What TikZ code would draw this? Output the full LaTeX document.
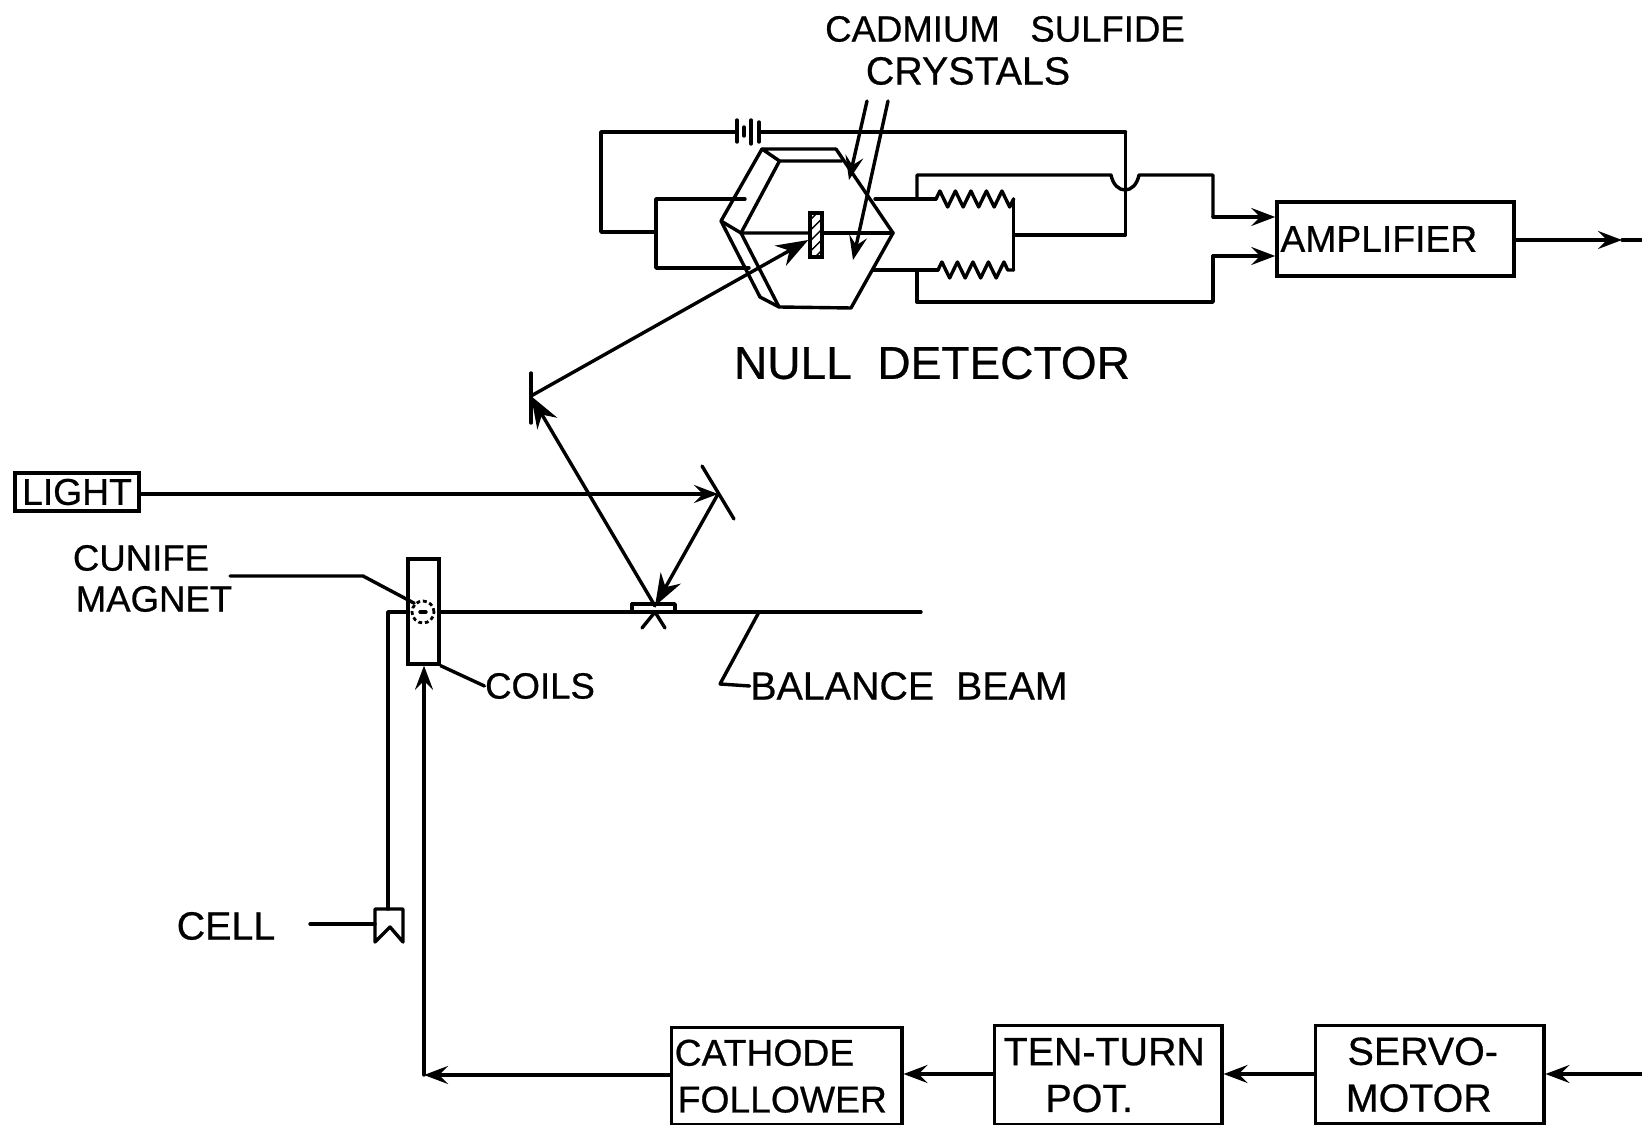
\documentclass[tikz,border=0pt]{standalone}
\usepackage{fontspec}
\setmainfont[FakeBold=0.6]{Liberation Sans}
\usetikzlibrary{arrows.meta,decorations.pathmorphing,patterns}
\tikzset{
  wire/.style={line width=0.34mm,line join=round,line cap=round},
  arr/.style={wire,-{Stealth[length=2.4mm,width=1.8mm,inset=0.9mm]}},
  fillarr/.style={wire,-{Stealth[length=3.2mm,width=2.3mm]}},
  blockbox/.style={draw,line width=0.34mm,inner sep=0pt,font=\fontsize{10.6}{13.3}\selectfont},
  lbl/.style={inner sep=0pt,font=\fontsize{10.4}{13.3}\selectfont},
  biglbl/.style={inner sep=0pt,font=\fontsize{11.2}{13.3}\selectfont},
  coil/.style={wire,decorate,decoration={zigzag,segment length=0.155cm,amplitude=0.08cm}}
}
\newcommand{\shiftline}[2]{#1\hspace*{#2}\mbox{}}
\begin{document}
\begin{tikzpicture}[x=0.01cm,y=-0.01cm]
    \useasboundingbox (0,0) rectangle (1642,1125);
    % labels
    \node [lbl] (cadmium) at (1005,29) {CADMIUM\ \ \ SULFIDE};
    \node [biglbl] (crystals) at (968,71) {CRYSTALS};
    \node [lbl,font=\fontsize{13.1}{16}\selectfont] (nulldet) at (932,363) {NULL\ \ DETECTOR};
    \node [lbl] (cunife) at (141,558) {CUNIFE};
    \node [lbl] (magnet) at (154,599) {MAGNET};
    \node [lbl] (coilstext) at (540,686) {COILS};
    \node [biglbl] (beamtext) at (909,686) {BALANCE\ \ BEAM};
    \node [biglbl] (cell) at (226,926) {CELL};
    % boxes
    \node [blockbox,minimum width=1.24cm,minimum height=0.38cm] (light) at (77,492) {LIGHT};
    \node [blockbox,text width=2.3cm,inner xsep=0.035cm,minimum height=0.74cm,align=left] (amplifier) at (1395.5,239) {AMPLIFIER};
    \node [blockbox,text width=2.24cm,inner xsep=0.03cm,minimum height=0.97cm,align=left,anchor=north west] (cathode) at (670,1026) {CATHODE\\\hspace*{0.03cm}FOLLOWER};
    \node [blockbox,biglbl,draw,minimum width=2.27cm,minimum height=0.99cm,align=center,anchor=north west] (tenturn) at (993,1024) {\shiftline{TEN-TURN}{0.08cm}\\\shiftline{POT.}{0.38cm}};
    \node [blockbox,biglbl,draw,minimum width=2.28cm,minimum height=0.98cm,align=center,anchor=north west] (servo) at (1314,1024) {\shiftline{SERVO-}{0.14cm}\\\shiftline{MOTOR}{0.22cm}};
    \node [draw,line width=0.34mm,minimum width=0.31cm,minimum height=1.05cm,inner sep=0pt] (coils) at (423.5,611.5) {};
    \node [draw,dash pattern=on 1.1pt off 0.8pt,circle,line width=0.28mm,minimum size=0.22cm,inner sep=0pt] (magnetcirc) at (423,612) {};
    \node [draw,pattern=north east lines,line width=0.34mm,minimum width=0.12cm,minimum height=0.44cm,inner sep=0pt] (slab) at (816,235) {};
    % detector crystals
    \coordinate (hexl) at (741,233);
    \coordinate (hexr) at (893,233);
    \coordinate (hextl) at (779.5,161);
    \coordinate (hextr) at (842,161);
    \coordinate (hexbl) at (779,307);
    \coordinate (hexbr) at (851,308);
    \coordinate (backtl) at (762,149);
    \coordinate (backtr) at (836,149);
    \coordinate (backl) at (721,221);
    \coordinate (backb) at (760,297);
    \draw [wire] (hexl) -- (hextl) -- (hextr);
    \draw [wire] (backtr) -- (hexr) -- (hexbr) -- (hexbl) -- (hexl) -- (slab.west |- hexl);
    \draw [wire] (slab.east |- hexl) -- (hexr);
    \draw [wire] (hextl) -- (backtl) -- (backtr);
    \draw [wire] (backtl) -- (backl) -- (hexl);
    \draw [wire] (backl) -- (backb) -- (hexbl);
    % battery
    \coordinate (batl) at (735,132);
    \coordinate (batr) at (761,132);
    \coordinate (wiretl) at (601,132);
    \coordinate (wiretr) at (1125.5,132);
    \coordinate (wirel) at (601,232);
    \coordinate (splitl) at (656,232);
    \coordinate (splittop) at (656,199);
    \coordinate (splitbot) at (656,268);
    \coordinate (crystalul) at (745,199);
    \coordinate (crystalll) at (749,268);
    \draw [wire] (batl) -- (wiretl) -- (wirel) -- (splitl);
    \draw [wire] (batr) -- (wiretr);
    \draw [wire] (737,120) -- (737,142);
    \draw [wire] (744,127) -- (744,136);
    \draw [wire] (751,120) -- (751,144);
    \draw [wire] (759,122) -- (759,142);
    \draw [wire] (crystalul) -- (splittop) -- (splitbot) -- (crystalll);
    % bridge
    \coordinate (upperl) at (875,199);
    \coordinate (upperm) at (936,199);
    \coordinate (upperr) at (1013.6,199);
    \coordinate (lowerl) at (873,270);
    \coordinate (lowerm) at (938,270);
    \coordinate (lowerr) at (1013.6,270);
    \coordinate (bridgem) at (1013.6,235);
    \coordinate (bridger) at (1125.5,235);
    \draw [wire] (upperl) -- (upperm);
    \draw [coil] (upperm) -- (upperr);
    \draw [wire] (lowerl) -- (lowerm);
    \draw [coil] (lowerm) -- (lowerr);
    \draw [wire] (upperr) -- (lowerr);
    \draw [wire] (bridgem) -- (bridger) -- (wiretr);
    % to amplifier
    \coordinate (ampone) at (917,199);
    \coordinate (amptwo) at (917,270);
    \draw [wire] (ampone) -- (917,175) -- (1111,175) .. controls (1115,195) and (1135,195) .. (1139,175) -- (1213,175) -- (1213,217);
    \draw [arr] (1213,217) -- (amplifier.west |- 1213,217);
    \draw [wire] (amptwo) -- (917,302) -- (1213,302) -- (1213,256);
    \draw [arr] (1213,256) -- (amplifier.west |- 1213,256);
    \coordinate (outmid) at (1622,240);
    \coordinate (outend) at (1642,240);
    \draw [arr] (amplifier.east |- outmid) -- (outmid);
    \draw [wire] (outmid) -- (outend);
    % light path
    \coordinate (mirrorb) at (718,494);
    \coordinate (mirrora) at (531,396);
    \coordinate (pivot) at (655,606);
    \draw [wire] (702,466) -- (734,519);
    \draw [wire] (531,373) -- (531,423);
    \draw [arr] (light.east |- mirrorb) -- (mirrorb);
    \draw [fillarr] (mirrorb) -- (pivot);
    \draw [fillarr] (pivot) -- (mirrora);
    \draw [fillarr] (mirrora) -- (slab.west |- 0,240);
    % balance
    \coordinate (beamend) at (921,612);
    \coordinate (plateleft) at (632,604);
    \coordinate (plateright) at (675,604);
    \draw [wire] (coils.east |- beamend) -- (beamend);
    \draw [wire] (plateleft) -- (plateright) -- (675,612);
    \draw [wire] (plateleft) -- (632,612);
    \draw [wire] (642,628) -- (655,612) -- (665,628);
    \draw [wire] (230,576) -- (363,576) -- (magnetcirc.135);
    \draw [wire] (coils.south east) -- (coilstext.west);
    \draw [wire] (759,612) -- (720,684) -- (beamtext.west);
    \draw [wire] (420,612) -- (426,612);
    % cell
    \coordinate (celltl) at (375,909);
    \coordinate (celltr) at (403,909);
    \coordinate (cellbl) at (375,942);
    \coordinate (cellbr) at (403,942);
    \coordinate (cellm) at (390,927);
    \draw [wire] (celltl) -- (celltr) -- (cellbr) -- (cellm) -- (cellbl) -- cycle;
    \draw [wire] (310,924) -- (375,924);
    \draw [wire] (coils.west |- 0,612) -- (388,612) -- (388,909);
    % lower chain
    \coordinate (servoin) at (1642,1074);
    \coordinate (corner) at (424,1075);
    \draw [arr] (servoin) -- (servo.east |- servoin);
    \draw [arr] (servo.west |- servoin) -- (tenturn.east |- servoin);
    \draw [arr] (tenturn.west |- servoin) -- (cathode.east |- servoin);
    \draw [arr] (cathode.west |- corner) -- (corner);
    \draw [arr] (corner) -- (corner |- coils.south);
    % crystal pointers
    \draw [arr] (867,101) -- (849,180);
    \draw [arr] (888,101) -- (853,260);
\end{tikzpicture}
\end{document}
